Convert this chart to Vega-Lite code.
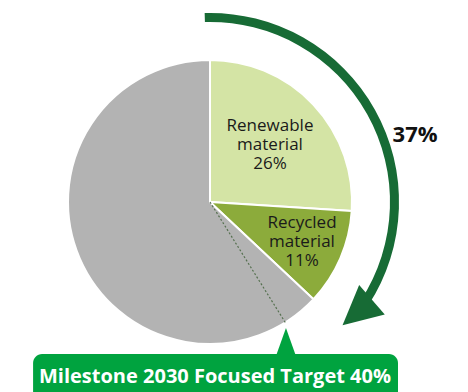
{
  "$schema": "https://vega.github.io/schema/vega-lite/v6.json",
  "width": 468,
  "height": 392,
  "autosize": "none",
  "padding": 0,
  "background": "white",
  "config": {"view": {"stroke": null}, "font": "Open Sans"},
  "layer": [
    {
      "data": {"values": [
        {"part": "Renewable material", "start": 0, "end": 26},
        {"part": "Recycled material", "start": 26, "end": 37},
        {"part": "Other", "start": 37, "end": 100}
      ]},
      "mark": {"type": "arc", "radius": 142, "stroke": "white", "strokeWidth": 2},
      "encoding": {
        "x": {"datum": 0, "type": "quantitative", "stack": false, "scale": {"domain": [-1.479, 1.817], "nice": false, "zero": false}, "axis": null},
        "y": {"datum": 0, "type": "quantitative", "stack": false, "scale": {"domain": [-1.338, 1.4225], "nice": false, "zero": false}, "axis": null},
        "theta": {"field": "start", "type": "quantitative", "scale": {"domain": [0, 100]}},
        "theta2": {"field": "end"},
        "color": {"field": "part", "type": "nominal", "scale": {"domain": ["Renewable material", "Recycled material", "Other"], "range": ["#d4e4a5", "#8cab3b", "#b3b3b3"]}, "legend": null}
      }
    },
    {
      "data": {"values": [{"from": -0.45, "to": 34.2}]},
      "mark": {"type": "arc", "radius": 189, "radius2": 180, "fill": "#176b35"},
      "encoding": {
        "x": {"datum": 0, "type": "quantitative", "stack": false},
        "y": {"datum": 0, "type": "quantitative", "stack": false},
        "theta": {"field": "from", "type": "quantitative", "scale": {"domain": [0, 100]}},
        "theta2": {"field": "to"}
      }
    },
    {
      "data": {"values": [{"px": 0, "py": 0}, {"px": 0.53, "py": -0.848}]},
      "mark": {"type": "line", "color": "#55704f", "strokeWidth": 1.2, "strokeDash": [2, 2]},
      "encoding": {
        "x": {"field": "px", "type": "quantitative"},
        "y": {"field": "py", "type": "quantitative"}
      }
    },
    {
      "data": {"values": [{"px": 1.037, "py": -0.778}]},
      "mark": {"type": "point", "shape": "M-1,-1L1,-1L0,1Z", "size": 1521, "angle": 49, "filled": true, "opacity": 1, "color": "#176b35", "strokeWidth": 0},
      "encoding": {
        "x": {"field": "px", "type": "quantitative"},
        "y": {"field": "py", "type": "quantitative"}
      }
    },
    {
      "data": {"values": [{"x1": -1.246, "x2": 1.324, "y1": -1.07, "y2": -1.6}]},
      "mark": {"type": "rect", "cornerRadius": 9, "color": "#00a33f", "clip": true},
      "encoding": {
        "x": {"field": "x1", "type": "quantitative"},
        "x2": {"field": "x2"},
        "y": {"field": "y1", "type": "quantitative"},
        "y2": {"field": "y2"}
      }
    },
    {
      "data": {"values": [{"px": 0.535, "py": -0.986}]},
      "mark": {"type": "point", "shape": "M0,-1L0.714,1L-0.714,1Z", "size": 784, "filled": true, "opacity": 1, "color": "#00a33f", "strokeWidth": 0},
      "encoding": {
        "x": {"field": "px", "type": "quantitative"},
        "y": {"field": "py", "type": "quantitative"}
      }
    },
    {
      "data": {"values": [
        {"label": "Renewable\nmaterial\n26%", "px": 0.4225, "py": 0.535},
        {"label": "Recycled\nmaterial\n11%", "px": 0.648, "py": -0.148}
      ]},
      "mark": {"type": "text", "fontSize": 17, "lineBreak": "\n", "lineHeight": 19, "align": "center", "baseline": "middle", "color": "#1a1a1a"},
      "encoding": {
        "x": {"field": "px", "type": "quantitative"},
        "y": {"field": "py", "type": "quantitative"},
        "text": {"field": "label"}
      }
    },
    {
      "data": {"values": [{"label": "37%", "px": 1.444, "py": 0.472}]},
      "mark": {"type": "text", "fontSize": 22, "fontWeight": "bold", "align": "center", "baseline": "middle", "color": "#111111"},
      "encoding": {
        "x": {"field": "px", "type": "quantitative"},
        "y": {"field": "py", "type": "quantitative"},
        "text": {"field": "label"}
      }
    },
    {
      "data": {"values": [{"label": "Milestone 2030 Focused Target 40%", "px": 0.035, "py": -1.2746}]},
      "mark": {"type": "text", "fontSize": 20, "fontWeight": "bold", "align": "center", "baseline": "alphabetic", "color": "white"},
      "encoding": {
        "x": {"field": "px", "type": "quantitative"},
        "y": {"field": "py", "type": "quantitative"},
        "text": {"field": "label"}
      }
    }
  ]
}
